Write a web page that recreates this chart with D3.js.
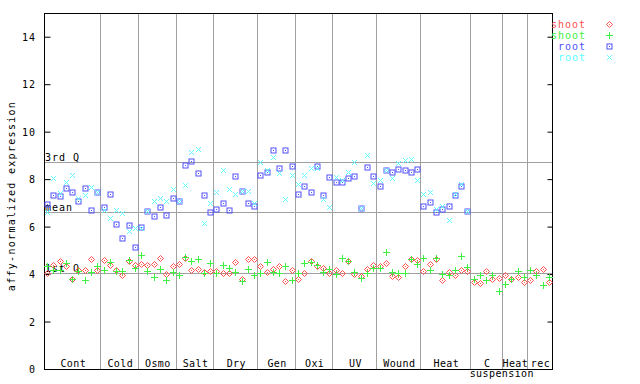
<!DOCTYPE html>
<html>
<head>
<meta charset="utf-8">
<script src="https://cdn.jsdelivr.net/npm/d3@7"></script>
<style>
    body { margin: 0; background: #fff; }
    text { font-family: "DejaVu Sans Mono", monospace; font-size: 10px; letter-spacing: 1px; }
</style>
</head>
<body>
<script>
// conditions and how many arrays each one holds
var categories = ['Cont', 'Cold', 'Osmo', 'Salt', 'Dry', 'Gen', 'Oxi', 'UV', 'Wound', 'Heat', 'C suspension', 'Heat', 'rec']
var counts = [9, 6, 6, 6, 7, 6, 6, 7, 7, 8, 5, 4, 4]

var yTicks = [0, 2, 4, 6, 8, 10, 12, 14]

var shootRed = [
    4.05, 4.39, 4.56, 4.36, 3.80, 4.16, 4.18, 4.64, 4.16, 4.60, 4.37, 4.16, 3.97, 4.56, 4.37, 4.43, 4.39, 4.41, 4.68, 4.02,
    4.33, 4.41, 4.68, 4.18, 4.22, 4.09, 4.14, 4.12, 4.05, 4.05, 4.51, 3.80, 4.64, 4.64, 4.35, 4.09, 4.22, 4.35, 3.71, 4.18,
    3.80, 4.05, 4.56, 4.35, 4.26, 4.05, 4.18, 4.05, 4.56, 4.00, 3.92, 4.22, 4.39, 4.35, 4.47, 3.92, 3.88, 4.35, 4.64, 4.60,
    4.14, 4.43, 4.64, 3.75, 4.09, 3.97, 4.18, 4.14, 3.68, 3.64, 4.11, 3.81, 3.85, 3.94, 3.81, 3.89, 3.68, 3.73, 4.15, 4.23,
    3.68]
var shootGreen = [
    4.33, 4.18, 4.18, 4.47, 3.80, 4.12, 3.74, 4.09, 4.35, 4.16, 4.51, 4.14, 4.14, 4.58, 4.26, 4.81, 4.14, 3.88, 4.20, 3.75,
    4.09, 3.97, 4.71, 4.56, 4.64, 4.05, 4.47, 4.05, 4.39, 4.26, 4.09, 3.71, 4.22, 3.97, 4.05, 4.51, 4.09, 4.05, 4.35, 3.75,
    4.05, 4.47, 4.51, 4.39, 4.09, 4.22, 4.00, 4.68, 4.56, 4.09, 3.84, 4.05, 4.26, 4.26, 4.94, 4.09, 4.05, 4.05, 4.64, 4.43,
    4.68, 4.18, 4.68, 4.00, 3.97, 4.18, 4.77, 4.31, 3.81, 3.94, 3.77, 3.98, 3.30, 3.60, 3.81, 4.15, 3.89, 4.19, 3.98, 3.56,
    3.89]
var rootBlue = [
    6.96, 7.34, 7.30, 7.61, 7.44, 7.06, 7.64, 6.68, 7.44, 6.83, 7.38, 6.12, 5.54, 6.08, 5.12, 5.99, 6.67, 6.46, 6.84, 6.50,
    7.22, 7.07, 8.61, 8.78, 8.27, 7.34, 6.62, 6.75, 7.00, 6.71, 8.14, 7.51, 7.00, 6.88, 8.19, 8.31, 9.24, 8.48, 9.24, 8.56,
    7.38, 7.72, 7.47, 8.56, 7.34, 8.10, 7.89, 7.89, 8.06, 8.14, 6.78, 8.52, 8.14, 7.72, 8.40, 8.31, 8.44, 8.40, 8.31, 8.44,
    6.88, 7.05, 6.62, 6.75, 6.88, 7.35, 7.72, 6.65]
var rootCyan = [
    6.62, 8.06, 7.40, 7.89, 8.19, 7.19, 7.34, 7.68, 7.44, 6.71, 6.37, 6.71, 6.58, 5.82, 5.95, 5.95, 6.67, 7.09, 7.22, 7.09,
    7.59, 7.09, 7.76, 9.16, 9.28, 6.16, 7.00, 7.47, 8.40, 7.59, 7.38, 7.51, 7.51, 7.00, 8.73, 8.40, 8.94, 8.27, 7.17, 8.19,
    7.81, 8.19, 8.48, 8.48, 7.17, 6.84, 8.10, 7.97, 8.31, 8.73, 6.78, 9.03, 7.85, 7.97, 8.40, 8.06, 8.69, 8.82, 8.86, 7.97,
    7.38, 7.47, 6.75, 6.88, 6.29, 7.38, 7.81, 6.65]

var statNames = ['3rd Q', 'mean', '1st Q']
var statValues = [8.71, 6.63, 4.06]

var legendNames = ['shoot', 'shoot', 'root', 'root']

var total = d3.sum(counts)

var svg = d3.select('body').append('svg')
    .attr('width', 640)
    .attr('height', 384)

var x = d3.scaleBand()
    .domain(d3.range(total))
    .range([44, 552])

var y = d3.scaleLinear()
    .domain([0, 15])
    .range([369, 13])

var cx = i => x(i) + x.bandwidth() / 2

// category separators
var starts = []
counts.reduce((acc, c) => { starts.push(acc); return acc + c }, 0)

svg.selectAll('.sep')
    .data(starts.slice(1))
    .enter().append('line')
    .attr('x1', d => Math.round(x(d)) + 0.5)
    .attr('x2', d => Math.round(x(d)) + 0.5)
    .attr('y1', 13)
    .attr('y2', 369)
    .style('stroke', '#a0a0a0')

// quartile / mean lines
svg.selectAll('.stat')
    .data(statValues)
    .enter().append('line')
    .attr('x1', 44)
    .attr('x2', 552)
    .attr('y1', d => Math.round(y(d)) + 0.5)
    .attr('y2', d => Math.round(y(d)) + 0.5)
    .style('stroke', '#a0a0a0')

svg.selectAll('.statlabel')
    .data(statValues)
    .enter().append('text')
    .attr('x', 45)
    .attr('y', d => Math.round(y(d)) - 1)
    .text((d, i) => statNames[i])

// frame
svg.append('rect')
    .attr('x', 44.5)
    .attr('y', 13.5)
    .attr('width', 508)
    .attr('height', 356)
    .style('fill', 'none')
    .style('stroke', '#000')

// y axis ticks, inward on both sides
svg.append('g')
    .attr('transform', 'translate(44.5,0)')
    .call(d3.axisRight(y).tickValues(yTicks).tickSize(6).tickFormat(''))
    .call(g => g.select('.domain').remove())
svg.append('g')
    .attr('transform', 'translate(552.5,0)')
    .call(d3.axisLeft(y).tickValues(yTicks).tickSize(5).tickFormat(''))
    .call(g => g.select('.domain').remove())

svg.selectAll('.ytl')
    .data(yTicks)
    .enter().append('text')
    .attr('x', 36)
    .attr('y', d => y(d) + 4)
    .attr('text-anchor', 'end')
    .text(d => d)

svg.append('text')
    .attr('transform', 'translate(15,196) rotate(-90)')
    .attr('text-anchor', 'middle')
    .style('letter-spacing', '1.3px')
    .text('affy-normalized expression')

// category labels; a second word goes on a line below, centred on the right edge
svg.selectAll('.xl')
    .data(categories)
    .enter().append('text')
    .attr('text-anchor', 'middle')
    .style('letter-spacing', '0.4px')
    .attr('y', 367)
    .each(function (d, i) {
        var left = x(starts[i]), w = counts[i] * x.bandwidth()
        var parts = d.split(' ')
        d3.select(this).selectAll('tspan')
            .data(parts)
            .enter().append('tspan')
            .attr('x', (p, k) => k ? left + w : left + w / 2 + 1)
            .attr('dy', (p, k) => k ? 10 : 0)
            .text(p => p)
    })

// markers
var colors = ['#ff5050', '#40f040', '#5050ff', '#60ffff']

function marker(g, type, color) {
    if (type == 0) {
        g.append('path').attr('d', 'M0,-3L3,0L0,3L-3,0Z')
            .style('fill', 'none').style('stroke', color)
        g.append('rect').attr('x', -0.5).attr('y', -0.5).attr('width', 1).attr('height', 1)
            .style('fill', color)
    } else if (type == 1) {
        g.append('path').attr('d', 'M-3.5,0H3.5M0,-3.5V3.5')
            .style('stroke', color)
    } else if (type == 2) {
        g.append('rect').attr('x', -2.5).attr('y', -2.5).attr('width', 5).attr('height', 5)
            .style('fill', 'none').style('stroke', color)
        g.append('rect').attr('x', -0.5).attr('y', -0.5).attr('width', 1).attr('height', 1)
            .style('fill', color)
    } else {
        g.append('path').attr('d', 'M-2.5,-2.5L2.5,2.5M-2.5,2.5L2.5,-2.5')
            .style('stroke', color)
    }
}

var series = [shootRed, shootGreen, rootBlue, rootCyan]

series.forEach((values, s) => {
    svg.append('g')
        .selectAll('g')
        .data(values)
        .enter().append('g')
        .attr('transform', (d, i) => 'translate(' + (Math.round(cx(i)) + 0.5) + ',' + (Math.round(y(d)) + 0.5) + ')')
        .each(function () { marker(d3.select(this), s, colors[s]) })
})

// legend
var legend = svg.selectAll('.leg')
    .data(legendNames)
    .enter().append('g')
    .attr('transform', (d, i) => 'translate(0,' + (24 + i * 11) + ')')

legend.append('text')
    .attr('x', 586)
    .attr('y', 4)
    .attr('text-anchor', 'end')
    .style('fill', (d, i) => colors[i])
    .text(d => d)

legend.append('g')
    .attr('transform', 'translate(609.5,0.5)')
    .each(function (d, i) { marker(d3.select(this), i, colors[i]) })
</script>
</body>
</html>
